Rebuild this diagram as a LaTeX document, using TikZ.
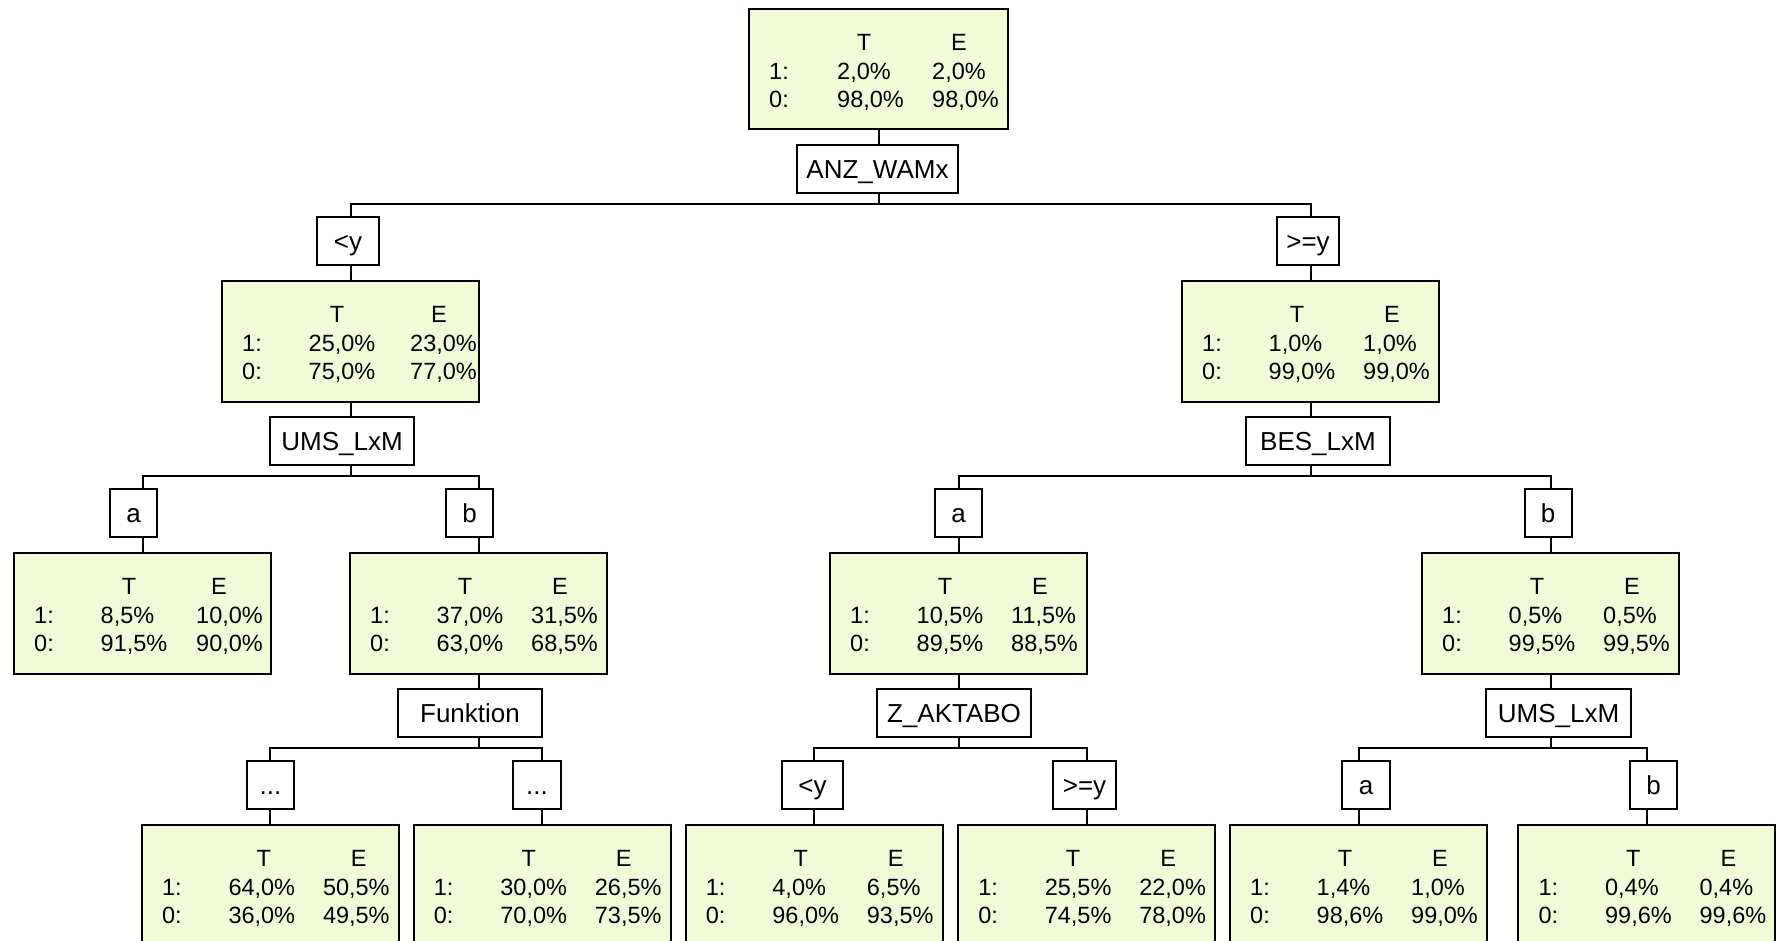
\documentclass[tikz,border=0pt]{standalone}
\usepackage{fontspec}
\setmainfont{Liberation Sans}
\definecolor{gfill}{RGB}{242,251,216}
\newcommand\gtxtfont{\fontsize{23.5pt}{28pt}\selectfont}
\newcommand\lblfont{\fontsize{26pt}{30pt}\selectfont}
\tikzset{
  gbox/.style={draw, line width=2pt, fill=gfill, minimum width=257pt, minimum height=121pt, inner sep=0pt, anchor=north},
  lbox/.style={draw, line width=2pt, fill=white, minimum height=48pt, inner sep=0pt, anchor=north, font=\lblfont, text height=19pt, text depth=0pt},
  gt/.style={inner sep=0pt, font=\gtxtfont},
  conn/.style={line width=2pt}
}
\newcommand\hdT{116}
\newcommand\hdE{211}
\newcommand\colT{87.5}
\newcommand\colE{182}
\newcommand\resetoffs{\renewcommand\hdT{116}\renewcommand\hdE{211}\renewcommand\colT{87.5}\renewcommand\colE{182}}
% green box: name, cx, top, T1, E1, T0, E0
\newcommand\gnode[7]{%
  \node[gbox] (#1) at (#2,#3) {};
  \node[gt,anchor=base] (#1-hT) at ([xshift=\hdT pt,yshift=-42.5pt]#1.north west) {T};
  \node[gt,anchor=base] (#1-hE) at ([xshift=\hdE pt,yshift=-42.5pt]#1.north west) {E};
  \node[gt,anchor=base west] (#1-l1) at ([xshift=21pt,yshift=-71pt]#1.north west) {1:};
  \node[gt,anchor=base west] (#1-l0) at ([xshift=21pt,yshift=-99.5pt]#1.north west) {0:};
  \node[gt,anchor=base west] (#1-t1) at ([xshift=\colT pt,yshift=-71pt]#1.north west) {#4};
  \node[gt,anchor=base west] (#1-e1) at ([xshift=\colE pt,yshift=-71pt]#1.north west) {#5};
  \node[gt,anchor=base west] (#1-t0) at ([xshift=\colT pt,yshift=-99.5pt]#1.north west) {#6};
  \node[gt,anchor=base west] (#1-e0) at ([xshift=\colE pt,yshift=-99.5pt]#1.north west) {#7};
}
% connectors: parent, split label, hline y, branch1, child1, branch2, child2
\newcommand\treesplit[7]{%
  \draw[conn] (#1.south) -- (#1.south |- #2.north);
  \draw[conn] (#1.south |- #2.south) -- (#1.south |- 0,#3);
  \draw[conn] (#5.north |- #4.north) |- (#1.south |- 0,#3) -| (#7.north |- #6.north);
  \draw[conn] (#5.north |- #4.south) -- (#5.north);
  \draw[conn] (#7.north |- #6.south) -- (#7.north);
}
\begin{document}
\begin{tikzpicture}[x=1pt,y=-1pt]
\useasboundingbox (0,0) rectangle (1780,940);
\fill[white] (0,0) rectangle (1780,940);
\clip (0,0) rectangle (1780,940);

% green boxes
\node[gbox, minimum width=259pt, minimum height=120pt] (g0) at (878.5,8) {};
\node[gt,anchor=base] (g0-hT) at ([xshift=116pt,yshift=-42.5pt]g0.north west) {T};
\node[gt,anchor=base] (g0-hE) at ([xshift=211pt,yshift=-42.5pt]g0.north west) {E};
\node[gt,anchor=base west] (g0-l1) at ([xshift=21pt,yshift=-71pt]g0.north west) {1:};
\node[gt,anchor=base west] (g0-l0) at ([xshift=21pt,yshift=-99.5pt]g0.north west) {0:};
\node[gt,anchor=base west] (g0-t1) at ([xshift=89pt,yshift=-71pt]g0.north west) {2,0\%};
\node[gt,anchor=base west] (g0-e1) at ([xshift=184pt,yshift=-71pt]g0.north west) {2,0\%};
\node[gt,anchor=base west] (g0-t0) at ([xshift=89pt,yshift=-99.5pt]g0.north west) {98,0\%};
\node[gt,anchor=base west] (g0-e0) at ([xshift=184pt,yshift=-99.5pt]g0.north west) {98,0\%};

\renewcommand\colE{189}\renewcommand\hdE{218}
\gnode{g1L}{350.5}{280}{25,0\%}{23,0\%}{75,0\%}{77,0\%}
\resetoffs
\gnode{g1R}{1310.5}{280}{1,0\%}{1,0\%}{99,0\%}{99,0\%}
\renewcommand\hdE{206}\renewcommand\colE{183}
\gnode{g2a}{142.5}{552}{8,5\%}{10,0\%}{91,5\%}{90,0\%}
\resetoffs
\gnode{g2b}{478.5}{552}{37,0\%}{31,5\%}{63,0\%}{68,5\%}
\gnode{g2c}{958.5}{552}{10,5\%}{11,5\%}{89,5\%}{88,5\%}
\gnode{g2d}{1550.5}{552}{0,5\%}{0,5\%}{99,5\%}{99,5\%}
\renewcommand\hdT{123}\renewcommand\hdE{218}
\gnode{g3a}{270.3}{824}{64,0\%}{50,5\%}{36,0\%}{49,5\%}
\resetoffs
\gnode{g3b}{542.2}{824}{30,0\%}{26,5\%}{70,0\%}{73,5\%}
\gnode{g3c}{814.2}{824}{4,0\%}{6,5\%}{96,0\%}{93,5\%}
\gnode{g3d}{1086.6}{824}{25,5\%}{22,0\%}{74,5\%}{78,0\%}
\gnode{g3e}{1358.5}{824}{1,4\%}{1,0\%}{98,6\%}{99,0\%}
\gnode{g3f}{1646.9}{824}{0,4\%}{0,4\%}{99,6\%}{99,6\%}

% split labels
\node[lbox, minimum width=161pt] (s0) at (877.5,144) {ANZ\_WAMx};
\node[lbox, minimum width=144pt] (s1L) at (342,416) {UMS\_LxM};
\node[lbox, minimum width=144pt] (s1R) at (1318,416) {BES\_LxM};
\node[lbox, minimum width=144pt] (s2b) at (470,688) {Funktion};
\node[lbox, minimum width=154pt] (s2c) at (954,688) {Z\_AKTABO};
\node[lbox, minimum width=145pt] (s2d) at (1558.5,688) {UMS\_LxM};

% branch labels
\node[lbox, minimum width=62pt] (b1L) at (348,216) {<y};
\node[lbox, minimum width=62pt] (b1R) at (1308,216) {>=y};
\node[lbox, minimum width=47pt] (b2a) at (133.5,488) {a};
\node[lbox, minimum width=47pt] (b2b) at (469.5,488) {b};
\node[lbox, minimum width=47pt] (b2c) at (958.6,488) {a};
\node[lbox, minimum width=47pt] (b2d) at (1548,488) {b};
\node[lbox, minimum width=47pt] (b3a) at (270.5,760) {...};
\node[lbox, minimum width=48pt] (b3b) at (537,760) {...};
\node[lbox, minimum width=61pt] (b3c) at (812.5,760) {<y};
\node[lbox, minimum width=63pt] (b3d) at (1084.5,760) {>=y};
\node[lbox, minimum width=48pt] (b3e) at (1366,760) {a};
\node[lbox, minimum width=47pt] (b3f) at (1653.5,760) {b};

% connectors
\treesplit{g0}{s0}{204}{b1L}{g1L}{b1R}{g1R}
\treesplit{g1L}{s1L}{476}{b2a}{g2a}{b2b}{g2b}
\treesplit{g1R}{s1R}{476}{b2c}{g2c}{b2d}{g2d}
\treesplit{g2b}{s2b}{748}{b3a}{g3a}{b3b}{g3b}
\treesplit{g2c}{s2c}{748}{b3c}{g3c}{b3d}{g3d}
\treesplit{g2d}{s2d}{748}{b3e}{g3e}{b3f}{g3f}
\end{tikzpicture}
\end{document}
